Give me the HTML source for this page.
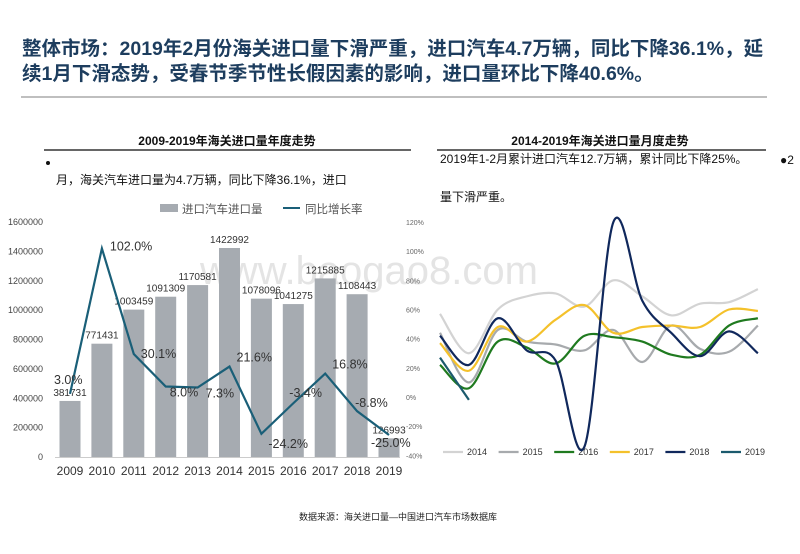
<!DOCTYPE html>
<html><head><meta charset="utf-8">
<style>
body{margin:0;width:800px;height:554px;background:#fff;overflow:hidden;font-family:"Liberation Sans","Noto Sans CJK SC",sans-serif;}
svg{position:absolute;left:0;top:0}
</style></head>
<body>
<svg width="800" height="554" font-family="Liberation Sans, Noto Sans CJK SC, sans-serif">
<text x="200" y="284" font-size="40" fill="#e4e4e4" font-family="Liberation Sans, sans-serif">www.baogao8.com</text>
<text x="22" y="55" font-size="19.5" font-weight="bold" fill="#1d3d5e">整体市场：2019年2月份海关进口量下滑严重，进口汽车4.7万辆，同比下降36.1%，延</text>
<text x="22" y="80" font-size="19.5" font-weight="bold" fill="#1d3d5e">续1月下滑态势，受春节季节性长假因素的影响，进口量环比下降40.6%。</text>
<line x1="21" y1="97" x2="767" y2="97" stroke="#aaa" stroke-width="1.5"/>
<text x="227" y="145" font-size="12" font-weight="bold" text-anchor="middle" fill="#111">2009-2019年海关进口量年度走势</text>
<line x1="44" y1="150" x2="411" y2="150" stroke="#333" stroke-width="1.5"/>
<text x="600" y="145" font-size="12" font-weight="bold" text-anchor="middle" fill="#111">2014-2019年海关进口量月度走势</text>
<line x1="437" y1="150" x2="766" y2="150" stroke="#333" stroke-width="1.5"/>
<circle cx="48" cy="163" r="2" fill="#111"/>
<text x="56" y="184" font-size="12" fill="#111">月，海关汽车进口量为4.7万辆，同比下降36.1%，进口</text>
<text x="440" y="163" font-size="12" fill="#111">2019年1-2月累计进口汽车12.7万辆，累计同比下降25%。</text>
<text x="780" y="164" font-size="12" fill="#111">●2</text>
<text x="440" y="201" font-size="12" fill="#111">量下滑严重。</text>
<g id="left"></g>
<g id="right"></g>
<text x="398" y="520" font-size="9" text-anchor="middle" fill="#222">数据来源：海关进口量—中国进口汽车市场数据库</text>
</svg>
<script>
const years=["2009","2010","2011","2012","2013","2014","2015","2016","2017","2018","2019"];
const volumes=[381731,771431,1003459,1091309,1170581,1422992,1078096,1041275,1215885,1108443,126993];
const growth=[3.0,102.0,30.1,8.0,7.3,21.6,-24.2,-3.4,16.8,-8.8,-25.0];
const leftTicks=[0,200000,400000,600000,800000,1000000,1200000,1400000,1600000];
const pctTicks=[-40,-20,0,20,40,60,80,100,120];
const months=[1,2,3,4,5,6,7,8,9,10,11,12];
const s2014=[57,30,60,69,71,62,80,69,56,64,65,74];
const s2015=[44,10,46,38,36,32,46,24,49,33,31,49];
const s2016=[22,6,38,34,23,42,41,38,29,29,49,54];
const s2017=[37,18,48,38,53,63,44,48,49,48,60,59];
const s2018=[42,22,54,32,25,-34,120,66,44,28,45,30];
const s2019=[27,-2];
const NS="http://www.w3.org/2000/svg";
function mk(p,t,a){const e=document.createElementNS(NS,t);for(const k in a)e.setAttribute(k,a[k]);p.appendChild(e);return e;}
// left chart
const L=document.getElementById('left');
const yV=v=>457-v/1600000*235;
const yP=v=>457-(v+40)/160*235;
const xC=i=>70+i*31.9;
leftTicks.forEach(t=>{const e=mk(L,'text',{x:43,y:yV(t)+3,'font-size':9,'text-anchor':'end',fill:'#444'});e.textContent=t;

});
const ax=mk(L,'line',{x1:55,y1:457.5,x2:400,y2:457.5,stroke:'#ccc'});


volumes.forEach((v,i)=>{const r=mk(L,'rect',{x:xC(i)-10.5,y:yV(v),width:21,height:457-yV(v),fill:'#a6abb1'});


const t=mk(L,'text',{x:xC(i),y:yV(v)-5,'font-size':10,'text-anchor':'middle',fill:'#333'});t.textContent=v;


const xl=mk(L,'text',{x:xC(i),y:475,'font-size':12,'text-anchor':'middle',fill:'#333'});xl.textContent=years[i];

});
const gl=mk(L,'polyline',{points:growth.map((g,i)=>xC(i)+','+yP(g)).join(' '),fill:'none',stroke:'#1a5f78','stroke-width':2.2});


const off=[[-16,-10],[8,2],[7,4],[4,10],[8,10],[7,-5],[7,14],[-4,-6],[7,-5],[-2,-4],[-18,12]];
growth.forEach((g,i)=>{const t=mk(L,'text',{x:xC(i)+off[i][0],y:yP(g)+off[i][1],'font-size':12.5,fill:'#333'});t.textContent=g.toFixed(1)+'%';

});
const lg1=mk(L,'rect',{x:160,y:204,width:18,height:8,fill:'#a6abb1'});


const lt1=mk(L,'text',{x:182,y:213,'font-size':11.5,fill:'#555'});lt1.textContent='进口汽车进口量';


const lg2=mk(L,'line',{x1:283,y1:208,x2:300,y2:208,stroke:'#1a5f78','stroke-width':2});


const lt2=mk(L,'text',{x:305,y:213,'font-size':11.5,fill:'#555'});lt2.textContent='同比增长率';


// right chart
const R=document.getElementById('right');
const ry=v=>397-v*175/120;
const rx=m=>440+(m-1)*28.9;
pctTicks.forEach(t=>{const e=mk(R,'text',{x:406,y:ry(t)+3,'font-size':7,fill:'#666'});e.textContent=t+'%';

});
function smooth(vals){const p=vals.map((v,i)=>[rx(months[i]),ry(v)]);let d='M'+p[0][0]+','+p[0][1];
for(let i=0;i<p.length-1;i++){const p0=p[i-1]||p[i],p1=p[i],p2=p[i+1],p3=p[i+2]||p2;
d+=' C'+(p1[0]+(p2[0]-p0[0])/6)+','+(p1[1]+(p2[1]-p0[1])/6)+' '+(p2[0]-(p3[0]-p1[0])/6)+','+(p2[1]-(p3[1]-p1[1])/6)+' '+p2[0]+','+p2[1];}return d;}
const series=[["2014",s2014,'#d3d3d3'],["2015",s2015,'#a7aaad'],["2016",s2016,'#1f7a1f'],["2017",s2017,'#f4c12b'],["2018",s2018,'#10285c'],["2019",s2019,'#1b5a6d']];
series.forEach((s,k)=>{const p=mk(R,'path',{d:smooth(s[1]),fill:'none',stroke:s[2],'stroke-width':2.2});


const lx=443+k*55.6;
const sw=mk(R,'line',{x1:lx,y1:452,x2:lx+20,y2:452,stroke:s[2],'stroke-width':2.2});


const t=mk(R,'text',{x:lx+24,y:455,'font-size':9,fill:'#333'});t.textContent=s[0];

});
</script>
</body></html>
